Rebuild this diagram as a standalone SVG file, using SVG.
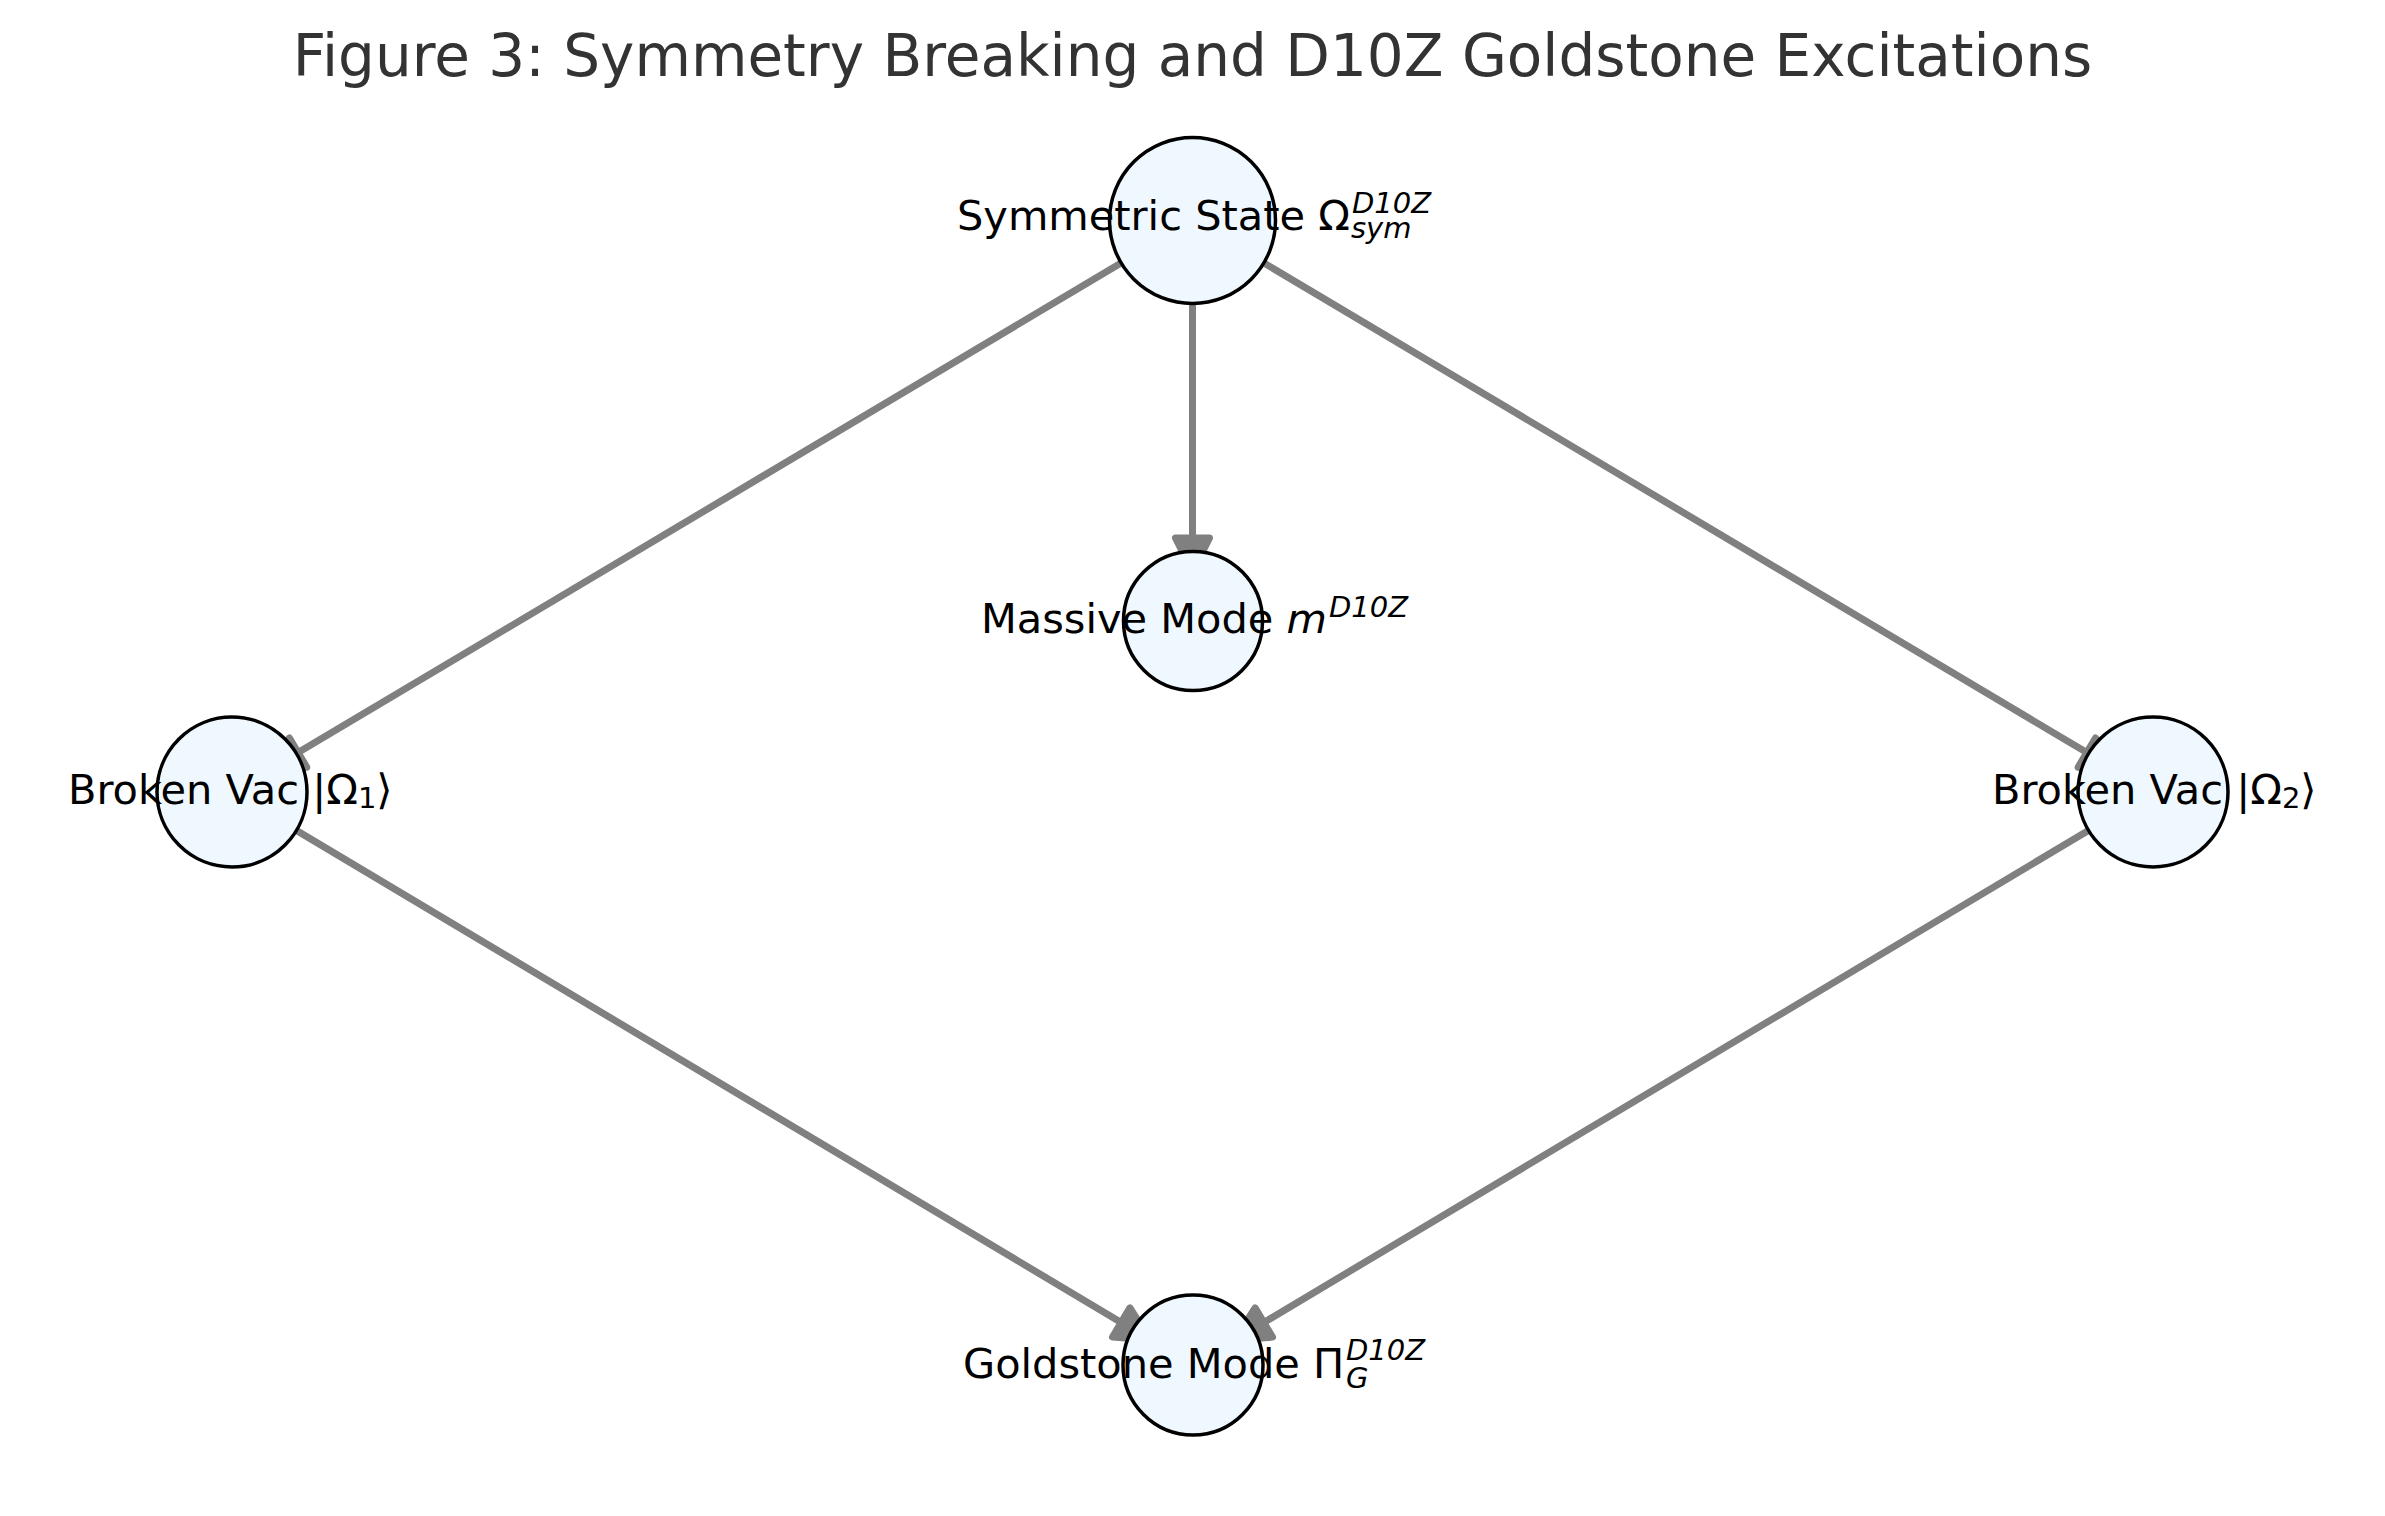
<svg xmlns="http://www.w3.org/2000/svg" width="2385" height="1516" viewBox="0 0 2385 1516">
<style>
.edge{stroke:#808080;stroke-width:7;fill:none}
.head{fill:#808080;stroke:#808080;stroke-width:7;stroke-linejoin:round}
.node{fill:#F0F8FF;stroke:#000;stroke-width:3.5}
.lbl{font-family:"DejaVu Sans",sans-serif;font-size:41.5px;fill:#000}
.sm{font-size:29px;font-style:italic}
.it{font-style:italic}
.title{font-family:"DejaVu Sans",sans-serif;font-size:58px;fill:#333;text-anchor:middle}
</style>
<rect width="2385" height="1516" fill="#fff"/>
<text class="title" x="1192.5" y="76">Figure 3: Symmetry Breaking and D10Z Goldstone Excitations</text>
<g id="connectors">
<line class="edge" x1="1192.5" y1="220.5" x2="1192.5" y2="538"/>
<polygon class="head" points="1175.5,538 1209.5,538 1192.5,572"/>
<line class="edge" x1="1192.5" y1="220.5" x2="298.1" y2="752.6"/>
<polygon class="head" points="306.8,767.2 289.4,738 268.9,770"/>
<line class="edge" x1="1192.5" y1="220.5" x2="2086.8" y2="752.6"/>
<polygon class="head" points="2078.1,767.2 2095.5,738 2116,770"/>
<line class="edge" x1="232" y1="792" x2="1121.2" y2="1322.5"/>
<polygon class="head" points="1129.9,1307.9 1112.5,1337.1 1150.4,1339.9"/>
<line class="edge" x1="2153" y1="792" x2="1263.8" y2="1322.5"/>
<polygon class="head" points="1255.1,1307.9 1272.5,1337.1 1234.6,1339.9"/>
</g>
<g id="node-symmetric">
<circle class="node" cx="1192.5" cy="220.5" r="83"/>
<text class="lbl" x="957" y="230">Symmetric State Ω<tspan class="sm" x="1352" y="213">D10Z</tspan><tspan class="sm" x="1351" y="238">sym</tspan></text>
</g>
<g id="node-massive">
<circle class="node" cx="1193" cy="621" r="69.5"/>
<text class="lbl" x="981" y="633">Massive Mode <tspan class="it">m</tspan><tspan class="sm" x="1329" y="617">D10Z</tspan></text>
</g>
<g id="node-broken1">
<circle class="node" cx="232" cy="792" r="75"/>
<text class="lbl" x="68" y="804">Broken Vac |Ω<tspan font-size="29px" y="808">1</tspan><tspan y="804">⟩</tspan></text>
</g>
<g id="node-broken2">
<circle class="node" cx="2153" cy="792" r="75"/>
<text class="lbl" x="1992" y="804">Broken Vac |Ω<tspan font-size="29px" y="808">2</tspan><tspan y="804">⟩</tspan></text>
</g>
<g id="node-goldstone">
<circle class="node" cx="1193" cy="1365" r="70"/>
<text class="lbl" x="963" y="1378">Goldstone Mode Π<tspan class="sm" x="1346" y="1360">D10Z</tspan><tspan class="sm" x="1346" y="1388">G</tspan></text>
</g>
</svg>
